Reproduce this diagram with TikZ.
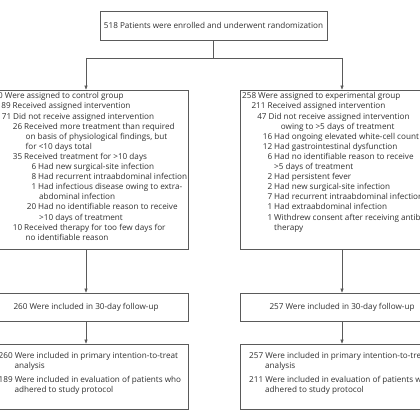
\documentclass[tikz,border=0pt]{standalone}
\usepackage{fontspec}
\setmainfont{Open Sans}
\usetikzlibrary{arrows.meta}
\definecolor{ln}{HTML}{5A5A5A}
\definecolor{tx}{HTML}{303030}
\newcommand{\en}[3]{\makebox[#1pt][r]{#2}\hspace{2pt}#3}
\newcommand{\cn}[2]{\hspace*{#1pt}#2}
\begin{document}
\begin{tikzpicture}[x=1pt,y=-1pt,
  font=\fontsize{8.15}{10.1}\selectfont,
  box/.style={draw=ln, line width=0.7pt, minimum width=204pt, inner sep=0pt, text=tx},
  txt/.style={text=tx, inner sep=0pt, align=left, anchor=north west},
  arr/.style={draw=ln, line width=0.6pt, -{Triangle[length=4pt,width=3pt]}},
  con/.style={draw=ln, line width=0.6pt}]
\useasboundingbox (0,0) rectangle (420,420);
\fill[white] (0,0) rectangle (420,420);
\clip (0,0) rectangle (420,420);

\node[box, minimum width=227pt, minimum height=29pt] (top) at (213.5,25.5)
  {518 Patients were enrolled and underwent randomization};

\node[box, minimum height=159pt] (cL) at (86,169.5) {};
\node[box, minimum height=159pt] (cR) at (342,169.5) {};
\node[box, minimum height=28pt] (fL) at (86,307) {260 Were included in 30-day follow-up};
\node[box, minimum height=28pt] (fR) at (342,307) {257 Were included in 30-day follow-up};
\node[box, minimum height=65pt] (aL) at (86,376.5) {};
\node[box, minimum height=65pt] (aR) at (342,376.5) {};

\node[txt] (tL) at (-10,92.5) {%
\en{12.7}{260}{Were assigned to control group}\\
\en{20.5}{189}{Received assigned intervention}\\
\en{21}{71}{Did not receive assigned intervention}\\
\en{32}{26}{Received more treatment than required}\\
\cn{35.5}{on basis of physiological findings, but}\\
\cn{35.5}{for <10 days total}\\
\en{32}{35}{Received treatment for >10 days}\\
\en{46}{6}{Had new surgical-site infection}\\
\en{46}{8}{Had recurrent intraabdominal infection}\\
\en{46}{1}{Had infectious disease owing to extra-}\\
\cn{49}{abdominal infection}\\
\en{46}{20}{Had no identifiable reason to receive}\\
\cn{49}{>10 days of treatment}\\
\en{32}{10}{Received therapy for too few days for}\\
\cn{35.5}{no identifiable reason}};

\node[txt] (tR) at (240,92.5) {%
\en{16}{258}{Were assigned to experimental group}\\
\en{25.3}{211}{Received assigned intervention}\\
\en{26.4}{47}{Did not receive assigned intervention}\\
\cn{40.7}{owing to >5 days of treatment}\\
\en{32}{16}{Had ongoing elevated white-cell count}\\
\en{32}{12}{Had gastrointestinal dysfunction}\\
\en{32}{6}{Had no identifiable reason to receive}\\
\cn{34}{>5 days of treatment}\\
\en{32}{2}{Had persistent fever}\\
\en{32}{2}{Had new surgical-site infection}\\
\en{32}{7}{Had recurrent intraabdominal infection}\\
\en{32}{1}{Had extraabdominal infection}\\
\en{32}{1}{Withdrew consent after receiving antibiotic}\\
\cn{34}{therapy}};

\node[txt] (sL) at (-1.5,352.5) {%
260 Were included in primary intention-to-treat\\
\cn{16}{analysis}\\[3.5pt]
189 Were included in evaluation of patients who\\
\cn{16}{adhered to study protocol}};

\node[txt] (sR) at (249,352.5) {%
257 Were included in primary intention-to-treat\\
\cn{16}{analysis}\\[3.5pt]
211 Were included in evaluation of patients who\\
\cn{16}{adhered to study protocol}};

\coordinate (jM) at (213.5,58);
\coordinate (jL) at (86,58);
\coordinate (jR) at (342,58);
\draw[con] (top.south) -- (jM);
\draw[con] (jL) -- (jR);
\draw[arr] (jL) -- (cL.north);
\draw[arr] (jR) -- (cR.north);
\draw[arr] (cL.south) -- (fL.north);
\draw[arr] (cR.south) -- (fR.north);
\draw[arr] (fL.south) -- (aL.north);
\draw[arr] (fR.south) -- (aR.north);
\end{tikzpicture}
\end{document}
